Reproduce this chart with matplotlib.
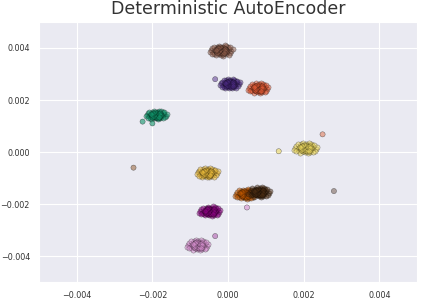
import matplotlib
matplotlib.use("Agg")
import matplotlib.pyplot as plt
import seaborn as sns
import numpy as np

# cluster centres
center_x = [-0.00018, 0.00005, 0.00080, -0.00190, 0.00205, -0.00055, 0.00045, 0.00082, -0.00048, -0.00080]
center_y = [0.00390, 0.00262, 0.00245, 0.00142, 0.00015, -0.00080, -0.00162, -0.00155, -0.00228, -0.00358]
half_w = [0.00030, 0.00026, 0.00026, 0.00028, 0.00030, 0.00028, 0.00026, 0.00028, 0.00028, 0.00028]
half_h = [0.00024, 0.00022, 0.00024, 0.00020, 0.00024, 0.00022, 0.00022, 0.00024, 0.00022, 0.00024]
colors = ["#8a5a48", "#4a2a80", "#e05a35", "#10946a", "#ecd860",
          "#ecbc3c", "#c05800", "#4a2c12", "#8a0480", "#d890d0"]

# shared blob shape (unit offsets)
blob_dx = [0.0, 0.3, -0.3, 0.5, -0.5, 0.2, -0.2, 0.7, -0.7, 0.4, -0.4, 0.1, -0.1, 0.9, -0.9, 0.6, -0.6, 0.2, -0.2, 0.8,
           -0.8, 0.35, -0.35, 0.55, -0.55, 0.15, -0.15, 0.45, -0.45, 1.0, -1.0, 0.25, -0.25, 0.65, -0.65, 0.05, -0.05, 0.75, -0.8, 0.3]
blob_dy = [0.0, 0.1, -0.1, -0.3, 0.3, 0.5, -0.5, 0.2, -0.2, -0.6, 0.6, -0.3, 0.3, -0.1, 0.1, 0.5, -0.5, -0.8, 0.8, -0.45,
           0.4, 0.3, -0.3, 0.0, 0.05, 0.2, -0.2, 0.7, -0.7, 0.25, -0.25, -0.45, 0.4, -0.65, 0.65, 0.65, -0.65, 0.55, -0.5, 0.85]

# stray points
stray_x = [-0.00250, 0.00280, 0.00250, 0.00134, -0.00226, -0.00200, -0.00034, 0.00050, -0.00034]
stray_y = [-0.00060, -0.00150, 0.00068, 0.00003, 0.00117, 0.00110, 0.00280, -0.00213, -0.00323]
stray_c = ["#a0704a", "#806a60", "#e08060", "#ecd860", "#10946a", "#10946a", "#6a4a9a", "#d890d0", "#b060b0"]

sns.set_style("darkgrid")
fig, ax = plt.subplots(figsize=(4.48, 3.05), dpi=100)

dx = np.array(blob_dx)
dy = np.array(blob_dy)
for cx, cy, hw, hh, c in zip(center_x, center_y, half_w, half_h, colors):
    ax.scatter(cx + dx * hw, cy + dy * hh, s=14, color=c, alpha=0.5,
               edgecolor="black", linewidth=0.3)
    # denser core
    ax.scatter(cx - dy * hw * 0.55, cy + dx * hh * 0.5, s=14, color=c, alpha=0.5,
               edgecolor="black", linewidth=0.3)
ax.scatter(stray_x, stray_y, s=14, c=stray_c, alpha=0.6, edgecolor="black", linewidth=0.3)

ax.set_xlim(-0.005, 0.005)
ax.set_ylim(-0.005, 0.005)
ax.set_xticks([-0.004, -0.002, 0.0, 0.002, 0.004])
ax.set_yticks([-0.004, -0.002, 0.0, 0.002, 0.004])
ax.tick_params(labelsize=5.8, colors="#333333", pad=3)
ax.set_title("Deterministic AutoEncoder", fontsize=12.5, color="#333333")

fig.subplots_adjust(left=0.087, right=0.931, top=0.928, bottom=0.075)
fig.savefig("out.png", dpi=100)
